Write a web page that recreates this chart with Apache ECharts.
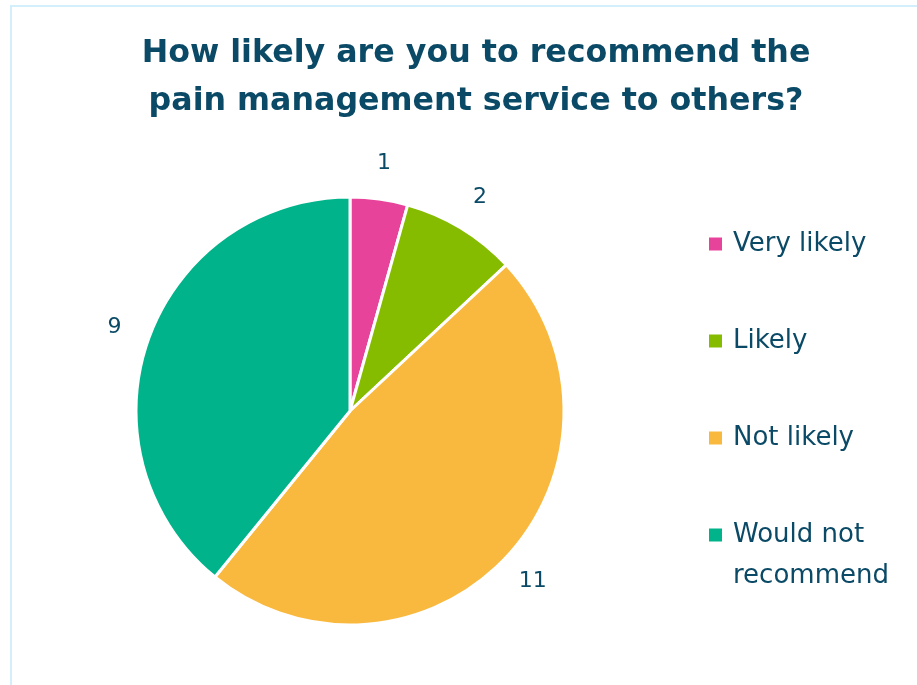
<!DOCTYPE html>
<html><head><meta charset="utf-8">
<script src="https://cdn.jsdelivr.net/npm/echarts@6/dist/echarts.min.js"></script>
<style>html,body{margin:0;padding:0;background:#fff}#c{width:917px;height:685px;position:relative}
#frame{position:absolute;left:10px;top:5px;width:920px;height:700px;border:2px solid #d3effc;box-sizing:border-box;pointer-events:none}</style>
</head><body><div id="c"></div><div id="frame"></div>
<script>
const titleText = 'How likely are you to recommend the\npain management service to others?';
const categories = ['Very likely', 'Likely', 'Not likely', 'Would not recommend'];
const legendLines = {'Would not recommend': ['Would not', 'recommend']};
const values = [1, 2, 11, 9];
const colors = ['#e8439a', '#86bc00', '#f9b93f', '#00b38a'];
const textColor = '#0b4a66';
const font = 'DejaVu Sans';

const chart = echarts.init(document.getElementById('c'), null, {renderer: 'canvas'});
chart.setOption({
  animation: false,
  color: colors,
  title: {
    text: titleText,
    left: 471, top: 25, textAlign: 'center',
    textStyle: {fontFamily: font, fontWeight: 'bold', fontSize: 31.7, lineHeight: 48, color: textColor}
  },
  legend: {
    orient: 'vertical', left: 702, top: 219,
    itemWidth: 15, itemHeight: 15, itemGap: 57,
    icon: 'rect',
    formatter: n => legendLines[n] ? legendLines[n][0] : n,
    textStyle: {fontFamily: font, fontSize: 26, color: textColor, lineHeight: 40, padding: [0, 0, 0, 5]},
    data: categories
  },
  graphic: [{
    type: 'text', left: 733, top: 563,
    style: {text: legendLines['Would not recommend'][1], font: '26px "' + font + '"', fill: textColor}
  }],
  series: [{
    type: 'pie',
    center: [350, 411], radius: 214,
    startAngle: 90, clockwise: true,
    itemStyle: {borderColor: '#fff', borderWidth: 3},
    label: {show: true, position: 'outside', formatter: '{c}', fontFamily: font, fontSize: 22, color: textColor},
    labelLine: {show: false, length: 36, length2: -5},
    labelLayout: {align: 'center'},
    data: categories.map((c, i) => ({name: c, value: values[i]}))
  }]
});
</script></body></html>
